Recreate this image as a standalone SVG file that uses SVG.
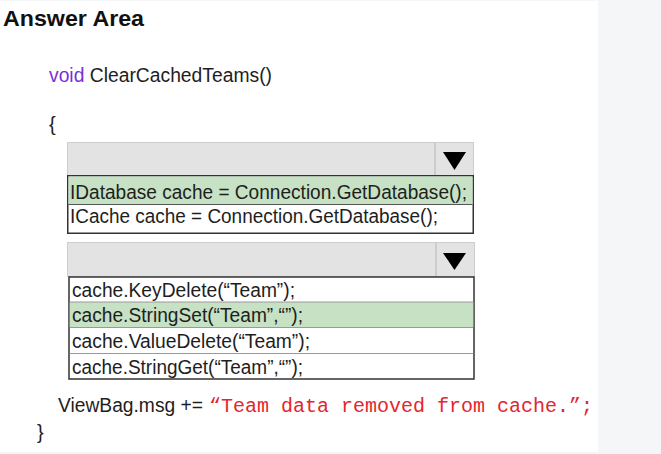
<svg xmlns="http://www.w3.org/2000/svg" width="661" height="454" viewBox="0 0 661 454">
<style>
.t{font-family:"Liberation Sans",Arial,sans-serif;font-size:20px;fill:#1e1e1e}
.h{font-family:"Liberation Sans",Arial,sans-serif;font-size:22.5px;font-weight:bold;fill:#111}
.kw{fill:#7b2fd8}
.str{font-family:"Liberation Mono","Courier New",monospace;font-size:20px;fill:#e5262b}
.hdr{fill:#e3e3e3;stroke:#cdcdcd;stroke-width:1}
.div{stroke:#bdbdbd;stroke-width:1.2}
.box{fill:#fff;stroke:#333;stroke-width:1.5}
.sel{fill:#c6e1c3}
.sep{stroke:#9a9a9a;stroke-width:1}
.tri{fill:#000}
</style>
<rect x="0" y="0" width="661" height="454" fill="#f5f6f8"/>
<rect x="0" y="1" width="598" height="451" fill="#ffffff"/>

<g id="title">
<text class="h" x="3" y="26" textLength="141" lengthAdjust="spacingAndGlyphs">Answer Area</text>
</g>

<g id="signature">
<text class="t" x="49" y="82" textLength="223" lengthAdjust="spacingAndGlyphs"><tspan class="kw">void</tspan> ClearCachedTeams()</text>
<text class="t" x="49" y="131">{</text>
</g>

<g id="dropdown1">
<rect class="hdr" x="67.5" y="142.5" width="406" height="33"/>
<line class="div" x1="435" y1="143" x2="435" y2="175"/>
<polygon class="tri" points="443,152 466,152 454.5,170"/>
<rect class="box" x="67.75" y="175.75" width="405.5" height="57.5"/>
<rect class="sel" x="68.5" y="176.5" width="404" height="27.5"/>
<line x1="68.5" y1="204.5" x2="472.5" y2="204.5" stroke="#555" stroke-width="1"/>
<text class="t" x="70" y="199" textLength="397" lengthAdjust="spacingAndGlyphs">IDatabase cache = Connection.GetDatabase();</text>
<text class="t" x="70" y="223" textLength="368" lengthAdjust="spacingAndGlyphs">ICache cache = Connection.GetDatabase();</text>
</g>

<g id="dropdown2">
<rect class="hdr" x="67.5" y="242.5" width="407" height="34"/>
<line class="div" x1="436" y1="243" x2="436" y2="276"/>
<polygon class="tri" points="443,253 466,253 454.5,270"/>
<rect class="box" x="69" y="277" width="405" height="102"/>
<rect class="sel" x="69.75" y="302" width="403.5" height="25"/>
<line class="sep" x1="69.75" y1="302" x2="473.25" y2="302" stroke="#cfcfcf"/>
<line class="sep" x1="69.75" y1="327.5" x2="473.25" y2="327.5" stroke="#d0d0d0"/>
<line class="sep" x1="69.75" y1="353.5" x2="473.25" y2="353.5"/>
<text class="t" x="72" y="297" textLength="223" lengthAdjust="spacingAndGlyphs">cache.KeyDelete(“Team”);</text>
<text class="t" x="72" y="322" textLength="231" lengthAdjust="spacingAndGlyphs">cache.StringSet(“Team”,“”);</text>
<text class="t" x="72" y="348" textLength="238" lengthAdjust="spacingAndGlyphs">cache.ValueDelete(“Team”);</text>
<text class="t" x="72" y="374" textLength="231" lengthAdjust="spacingAndGlyphs">cache.StringGet(“Team”,“”);</text>
</g>

<g id="statement">
<text class="t" x="58" y="412" textLength="145" lengthAdjust="spacingAndGlyphs">ViewBag.msg +=</text>
<text class="str" x="209" y="412" textLength="384" lengthAdjust="spacingAndGlyphs">“Team data removed from cache.”;</text>
<text class="t" x="37" y="439">}</text>
</g>

<g id="connectors"></g>
</svg>
